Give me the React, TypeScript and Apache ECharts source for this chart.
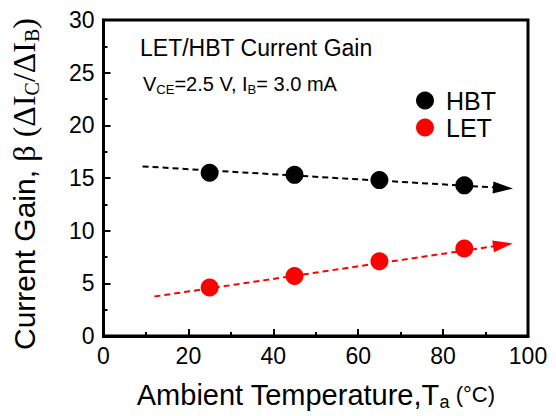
import React, { useEffect, useRef } from "react";
import * as echarts from "echarts";

const temps = [25, 45, 65, 85];
const hbtGain = [15.5, 15.3, 14.8, 14.3];
const letGain = [4.6, 5.7, 7.1, 8.3];
const hbtTrend = [[9.2, 16.1], [94.1, 14.05]];
const letTrend = [[12, 3.75], [94.1, 8.65]];
const xTicks = [0, 20, 40, 60, 80, 100];
const yTicks = [0, 5, 10, 15, 20, 25, 30];

const SANS = "'Liberation Sans', Arial, sans-serif";
const SERIF = "'Liberation Serif', 'Times New Roman', serif";

export default function App() {
  const ref = useRef<HTMLDivElement>(null);
  useEffect(() => {
    if (!ref.current) return;
    const chart = echarts.init(ref.current, null, { renderer: "svg" });
    const mk = (trend: number[][], color: string) => ({
      silent: true,
      symbol: ["none", "triangle"],
      symbolSize: [12, 20],
      label: { show: false },
      lineStyle: { color, type: [6, 4], width: 2, opacity: 1 },
      data: [[{ coord: trend[0] }, { coord: trend[1] }]],
    });
    chart.setOption({
      animation: false,
      grid: {
        left: 102, right: 28, top: 20, bottom: 73,
        show: true, borderColor: "#000", borderWidth: 3,
      },
      legend: {
        data: ["HBT", "LET"],
        orient: "vertical",
        left: 411, top: 83,
        itemWidth: 18, itemHeight: 18, itemGap: 2,
        icon: "circle",
        textStyle: { fontSize: 25, lineHeight: 24, fontFamily: SANS, color: "#000", padding: [0, 0, 0, 7] },
      },
      xAxis: {
        type: "value",
        min: xTicks[0], max: xTicks[xTicks.length - 1], interval: 20,
        axisLine: { lineStyle: { color: "#000", width: 3 } },
        axisTick: { inside: true, length: 7, lineStyle: { width: 2, color: "#000" } },
        minorTick: { show: true, splitNumber: 2, length: 4, lineStyle: { width: 2, color: "#000" } },
        splitLine: { show: false },
        axisLabel: { fontSize: 23, fontFamily: SANS, color: "#000", margin: 8 },
        name: "{a|Ambient Temperature,T}{s|a}{c| (°C)}",
        nameLocation: "middle",
        nameGap: 42,
        nameTextStyle: {
          rich: {
            a: { fontSize: 29, fontFamily: SANS, color: "#000" },
            s: { fontSize: 18, fontFamily: SANS, color: "#000", padding: [15, 0, 0, 0] },
            c: { fontSize: 22, fontFamily: SANS, color: "#000" },
          },
        },
      },
      yAxis: {
        type: "value",
        min: yTicks[0], max: yTicks[yTicks.length - 1], interval: 5,
        axisLine: { show: true, lineStyle: { color: "#000", width: 3 } },
        axisTick: { show: true, inside: true, length: 7, lineStyle: { width: 2, color: "#000" } },
        minorTick: { show: true, splitNumber: 2, length: 4, lineStyle: { width: 2, color: "#000" } },
        splitLine: { show: false },
        axisLabel: { fontSize: 23, fontFamily: SANS, color: "#000", margin: 9 },
        name: "{a|Current Gain, }{b|β (ΔI}{s|C}{b|/ΔI}{s|B}{b|)}",
        nameLocation: "middle",
        nameRotate: 90,
        nameGap: 62,
        nameTextStyle: {
          padding: [0, 12, 0, 0],
          rich: {
            a: { fontSize: 30, fontFamily: SANS, color: "#000" },
            b: { fontSize: 32, fontFamily: SERIF, color: "#000" },
            s: { fontSize: 20, fontFamily: SERIF, color: "#000", padding: [15, 0, 0, 0] },
          },
        },
      },
      graphic: [
        {
          type: "text", x: 140, y: 48,
          style: {
            text: "LET/HBT Current Gain", fontSize: 23, fontFamily: SANS, fill: "#000",
            verticalAlign: "middle",
          },
        },
        {
          type: "text", x: 143, y: 84,
          style: {
            text: "{n|V}{s|CE}{n|=2.5 V, I}{s|B}{n|= 3.0 mA}",
            verticalAlign: "middle",
            rich: {
              n: { fontSize: 20, fontFamily: SANS, fill: "#000", color: "#000" },
              s: { fontSize: 13, fontFamily: SANS, fill: "#000", color: "#000", padding: [10, 0, 0, 0] },
            },
          },
        },
      ],
      series: [
        {
          name: "HBT", type: "scatter", symbol: "circle", symbolSize: 18,
          itemStyle: { color: "#000", opacity: 1 }, z: 3,
          data: temps.map((t, i) => [t, hbtGain[i]]),
          markLine: mk(hbtTrend, "#000"),
        },
        {
          name: "LET", type: "scatter", symbol: "circle", symbolSize: 18,
          itemStyle: { color: "#ff0000", opacity: 1 }, z: 3,
          data: temps.map((t, i) => [t, letGain[i]]),
          markLine: mk(letTrend, "#ff0000"),
        },
      ],
    });
    return () => chart.dispose();
  }, []);
  return (
    <div
      ref={ref}
      style={{ position: "fixed", left: 0, top: 0, width: 556, height: 416, background: "#fff" }}
    />
  );
}
